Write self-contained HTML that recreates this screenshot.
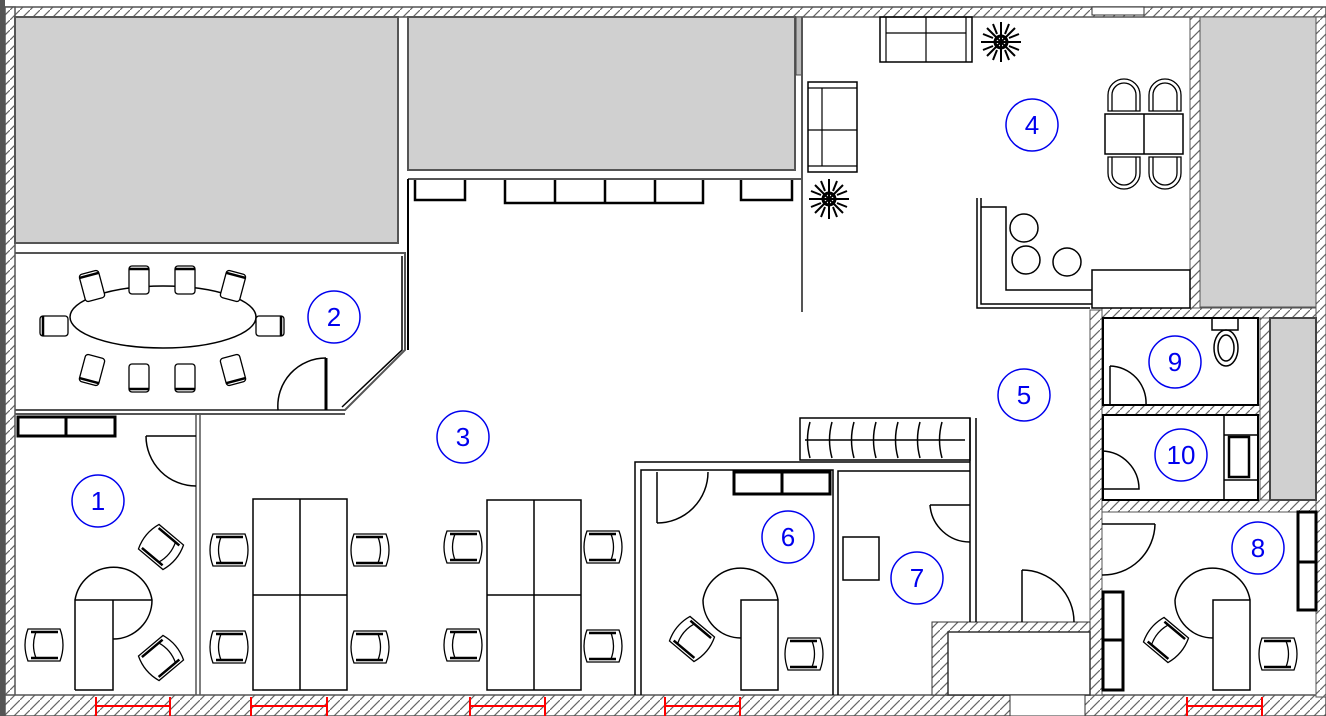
<!DOCTYPE html>
<html><head><meta charset="utf-8"><style>
html,body{margin:0;padding:0;background:#fff}
svg{display:block}
text{font-family:"Liberation Sans",sans-serif;fill:#0000ee}
</style></head><body>
<svg width="1326" height="716" viewBox="0 0 1326 716" xmlns="http://www.w3.org/2000/svg">
<defs>
<pattern id="h" width="10" height="10" patternUnits="userSpaceOnUse">
<rect width="10" height="10" fill="#fff"/>
<path d="M-2,12 L12,-2" stroke="#666" stroke-width="1.2"/>
</pattern>
<g id="ch" fill="#fff" stroke="#000" stroke-width="1.3">
<path d="M-16,-16 Q-22,0 -16,16 L16,16 Q22,0 16,-16 Z"/>
<path d="M-13,-13 L14,-13 M-13,13 L14,13" stroke-width="2.5"/>
<path d="M-8,-13 Q-13,0 -8,13" fill="none"/>
</g>
<g id="sc" fill="#fff" stroke="#000" stroke-width="1.3">
<rect x="-10" y="-14" width="20" height="28" rx="3"/>
<path d="M-10,-11 L10,-11" stroke-width="2.5"/>
</g>
<g id="dc" fill="#fff" stroke="#000" stroke-width="1.3">
<path d="M-16,16 L-16,0 A16,16 0 0 1 16,0 L16,16 Z"/>
<path d="M-12,16 L-12,0 A12,12 0 0 1 12,0 L12,16" fill="none"/>
</g>
<g id="pl" stroke="#000" stroke-width="2" fill="none">
<path d="M-20,0 L20,0 M0,-20 L0,20 M-14,-14 L14,14 M-14,14 L14,-14 M-8,-18 L-4,-8 M8,-18 L4,-8 M18,-8 L8,-4 M18,8 L8,4 M8,18 L4,8 M-8,18 L-4,8 M-18,8 L-8,4 M-18,-8 L-8,-4"/>
<circle r="6" stroke-width="3"/>
</g>
</defs>

<!-- outer walls -->
<rect x="5" y="7" width="1321" height="10" fill="url(#h)" stroke="#555" stroke-width="1.5"/>
<rect x="5" y="7" width="10" height="700" fill="url(#h)" stroke="#555" stroke-width="1.5"/>
<rect x="0" y="0" width="5" height="716" fill="#555"/>
<rect x="5" y="695" width="1321" height="21" fill="url(#h)" stroke="#555" stroke-width="1.5"/>
<rect x="1190" y="17" width="10" height="292" fill="url(#h)" stroke="#555"/>
<rect x="1316" y="17" width="10" height="680" fill="url(#h)" stroke="#555"/>
<rect x="1090" y="310" width="12" height="385" fill="url(#h)" stroke="#555"/>
<rect x="1102" y="308" width="214" height="10" fill="url(#h)" stroke="#555"/>
<rect x="1102" y="405" width="160" height="10" fill="url(#h)" stroke="#555"/>
<rect x="1102" y="500" width="214" height="12" fill="url(#h)" stroke="#555"/>
<rect x="1260" y="318" width="10" height="182" fill="url(#h)" stroke="#555"/>
<rect x="932" y="622" width="158" height="73" fill="url(#h)" stroke="#333"/>
<rect x="948" y="632" width="142" height="63" fill="#fff" stroke="#333" stroke-width="1.5"/>
<rect x="1010" y="695" width="75" height="21" fill="#fff" stroke="#333"/>
<rect x="1092" y="7" width="52" height="8" fill="#fff" stroke="#333"/>

<!-- grey rooms -->
<rect x="15" y="17" width="383" height="226" fill="#d0d0d0" stroke="#555" stroke-width="2"/>
<rect x="408" y="17" width="387" height="153" fill="#d0d0d0" stroke="#555" stroke-width="2"/>
<rect x="1200" y="17" width="116" height="290" fill="#d0d0d0" stroke="#555"/>
<rect x="1270" y="318" width="46" height="182" fill="#d0d0d0" stroke="#444" stroke-width="2"/>
<rect x="796" y="17" width="6" height="58" fill="#bbb" stroke="#444"/>

<g fill="none" stroke="#000" stroke-width="1.5">
<path d="M408,179 L802,179" stroke="#555" stroke-width="2"/>
<path d="M408,179 L408,350" stroke-width="2"/>
<path d="M802,17 L802,312" stroke="#555" stroke-width="2"/>
<path d="M15,253 L405,253 L405,350 L345,410 L15,410" stroke="#555" stroke-width="2"/>
<path d="M402,256 L402,350 L342,407" />
<path d="M15,414 L345,414" stroke="#555" stroke-width="2"/>
<path d="M196,414 L196,695 M200,414 L200,695" stroke="#555" stroke-width="1.5"/>
<path d="M415,180 V200 H465 V180 M505,180 V203 H703 V180 M555,180 V203 M605,180 V203 M655,180 V203 M741,180 V200 H792 V180" stroke-width="2.5"/>
<ellipse cx="163" cy="317" rx="93" ry="31"/>
<path d="M278,410 A48,48 0 0 1 326,358"/>
<path d="M326,358 L326,410" stroke-width="3"/>
<path d="M18,417 H115 V436 H18 Z M66,417 V436" stroke-width="3"/>
<path d="M146,436 H196 M146,436 A50,50 0 0 0 196,486"/>
<path d="M75,690 V600 H152 M113,600 V690 H75 M75,600 A39,39 0 0 1 152,600 A39,39 0 0 1 113,639"/>
<rect x="253" y="499" width="94" height="191"/>
<path d="M300,499 V690 M253,595 H347"/>
<rect x="487" y="500" width="94" height="190"/>
<path d="M534,500 V690 M487,595 H581"/>
<path d="M635,695 V462 H970 M641,695 V470 H833 V695 M838,695 V471 H970"/>
<path d="M800,418 H970 V460 H800 Z M805,440 H965"/>
<path d="M810,422 Q805,440 810,458 M832,422 Q827,440 832,458 M854,422 Q849,440 854,458 M876,422 Q871,440 876,458 M898,422 Q893,440 898,458 M920,422 Q915,440 920,458 M942,422 Q937,440 942,458"/>
<path d="M970,418 V622 M976,418 V622"/>
<path d="M734,472 H830 V494 H734 Z M782,472 V494" stroke-width="3"/>
<path d="M657,472 V523 M657,523 A51,51 0 0 0 708,472"/>
<path d="M930,505 H970 M930,505 A40,40 0 0 0 970,542"/>
<rect x="843" y="537" width="36" height="43"/>
<path d="M741,690 V600 H778 V690 Z M703,600 A38,38 0 0 1 778,600 M703,600 A38,38 0 0 0 741,638"/>
<path d="M1022,570 V622 M1022,570 A52,52 0 0 1 1074,622"/>
<rect x="880" y="17" width="92" height="45"/>
<path d="M886,17 V62 M966,17 V62 M886,33 H966 M926,17 V62" stroke-width="1.2"/>
<rect x="808" y="82" width="49" height="90"/>
<path d="M808,88 H857 M808,166 H857 M822,88 V166 M808,130 H857" stroke-width="1.2"/>
<rect x="1105" y="114" width="78" height="40"/>
<path d="M1144,114 V154"/>
<path d="M977,198 V308 H1090 M981,198 V304 H1092 M981,207 H1006 V290 H1092"/>
<rect x="1092" y="270" width="98" height="38"/>
<circle cx="1024" cy="228" r="14"/><circle cx="1026" cy="260" r="14"/><circle cx="1067" cy="262" r="14"/>
<rect x="1103" y="318" width="155" height="87" stroke-width="2"/>
<path d="M1110,366 V405 M1110,366 A37,37 0 0 1 1146,405" />
<rect x="1212" y="318" width="26" height="12"/>
<ellipse cx="1226" cy="348" rx="12" ry="18"/>
<ellipse cx="1226" cy="348" rx="8" ry="13"/>
<rect x="1103" y="415" width="155" height="85" stroke-width="2"/>
<path d="M1224,415 V500 M1224,435 H1258 M1224,480 H1258"/>
<rect x="1229" y="437" width="20" height="40" stroke-width="2.5"/>
<path d="M1102,451 A38,38 0 0 1 1139,489 H1102"/>
<path d="M1102,524 H1155 M1155,524 A52,52 0 0 1 1102,575"/>
<rect x="1298" y="512" width="18" height="50" stroke-width="3"/>
<rect x="1298" y="562" width="18" height="48" stroke-width="3"/>
<rect x="1103" y="592" width="20" height="48" stroke-width="3"/>
<rect x="1103" y="640" width="20" height="50" stroke-width="3"/>
<path d="M1213,690 V600 H1250 V690 Z M1175,600 A38,38 0 0 1 1250,600 M1175,600 A38,38 0 0 0 1213,638"/>
</g>

<use href="#ch" x="229" y="550"/><use href="#ch" x="229" y="647"/>
<use href="#ch" transform="translate(370,550) scale(-1,1)"/><use href="#ch" transform="translate(370,647) scale(-1,1)"/>
<use href="#ch" x="463" y="547"/><use href="#ch" x="463" y="645"/>
<use href="#ch" transform="translate(603,547) scale(-1,1)"/><use href="#ch" transform="translate(603,646) scale(-1,1)"/>
<use href="#ch" x="44" y="645"/>
<use href="#ch" transform="translate(161,547) rotate(-140)"/>
<use href="#ch" transform="translate(161,658) rotate(140)"/>
<use href="#ch" transform="translate(692,639) rotate(40)"/>
<use href="#ch" transform="translate(804,654) scale(-1,1)"/>
<use href="#ch" transform="translate(1166,640) rotate(40)"/>
<use href="#ch" transform="translate(1278,654) scale(-1,1)"/>
<use href="#sc" transform="translate(92,286) rotate(-15)"/>
<use href="#sc" transform="translate(139,280)"/>
<use href="#sc" transform="translate(185,280)"/>
<use href="#sc" transform="translate(233,286) rotate(15)"/>
<use href="#sc" transform="translate(92,370) rotate(195)"/>
<use href="#sc" transform="translate(139,378) rotate(180)"/>
<use href="#sc" transform="translate(185,378) rotate(180)"/>
<use href="#sc" transform="translate(233,370) rotate(165)"/>
<use href="#sc" transform="translate(54,326) rotate(-90)"/>
<use href="#sc" transform="translate(270,326) rotate(90)"/>
<use href="#dc" x="1124" y="95"/><use href="#dc" x="1165" y="95"/>
<use href="#dc" transform="translate(1124,173) scale(1,-1)"/><use href="#dc" transform="translate(1165,173) scale(1,-1)"/>
<use href="#pl" x="1001" y="42"/><use href="#pl" x="829" y="199"/>

<g stroke="#f00" stroke-width="2" fill="none">
<path d="M96,697 V716 M170,697 V716 M96,706 H170"/>
<path d="M251,697 V716 M327,697 V716 M251,706 H327"/>
<path d="M470,697 V716 M545,697 V716 M470,706 H545"/>
<path d="M665,697 V716 M740,697 V716 M665,706 H740"/>
<path d="M1187,697 V716 M1262,697 V716 M1187,706 H1262"/>
</g>

<g fill="none" stroke="#0000ee" stroke-width="1.5">
<circle cx="98" cy="501" r="26"/><circle cx="334" cy="317" r="26"/><circle cx="463" cy="437" r="26"/>
<circle cx="1032" cy="125" r="26"/><circle cx="1024" cy="395" r="26"/><circle cx="788" cy="537" r="26"/>
<circle cx="917" cy="578" r="26"/><circle cx="1258" cy="548" r="26"/><circle cx="1175" cy="362" r="26"/>
<circle cx="1181" cy="455" r="26"/>
</g>
<g font-size="26" text-anchor="middle">
<text x="98" y="510">1</text><text x="334" y="326">2</text><text x="463" y="446">3</text>
<text x="1032" y="134">4</text><text x="1024" y="404">5</text><text x="788" y="546">6</text>
<text x="917" y="587">7</text><text x="1258" y="557">8</text><text x="1175" y="371">9</text>
<text x="1181" y="464">10</text>
</g>
</svg>
</body></html>
